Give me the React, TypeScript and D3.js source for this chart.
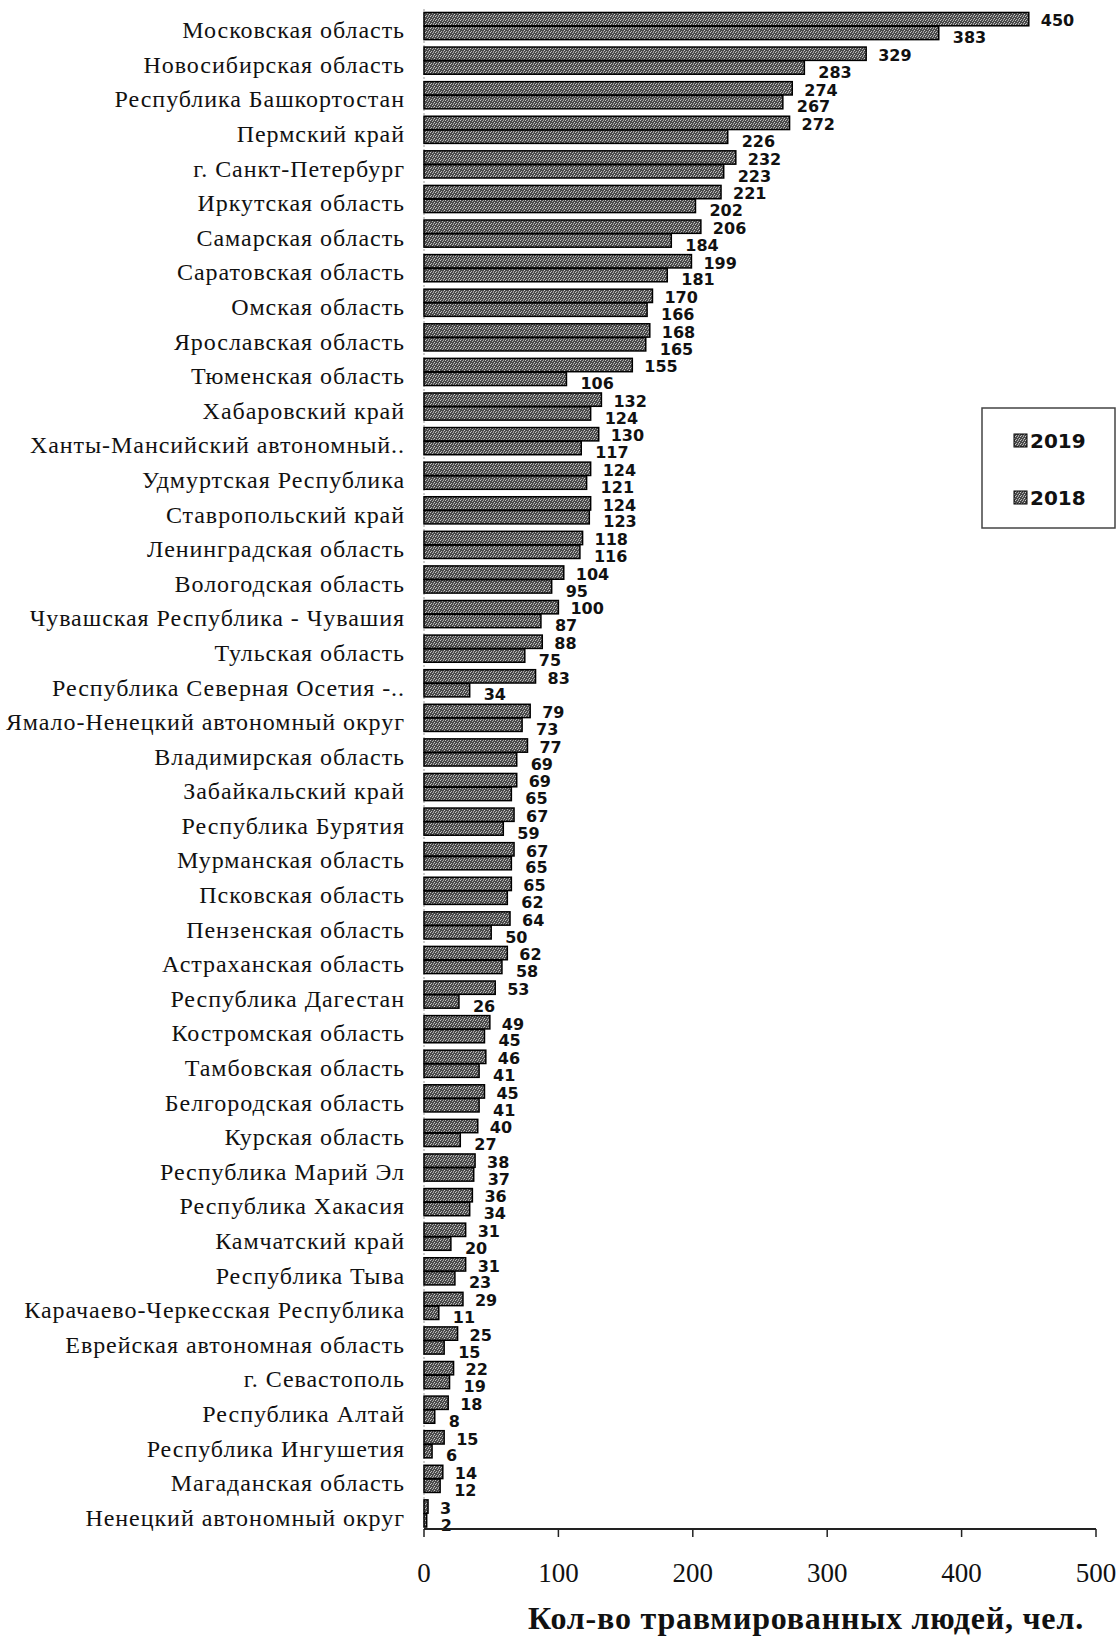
import React from "react";
import * as d3 from "d3";

const regions: string[] = [
  "Московская область",
  "Новосибирская область",
  "Республика Башкортостан",
  "Пермский край",
  "г. Санкт-Петербург",
  "Иркутская область",
  "Самарская область",
  "Саратовская область",
  "Омская область",
  "Ярославская область",
  "Тюменская область",
  "Хабаровский край",
  "Ханты-Мансийский автономный..",
  "Удмуртская Республика",
  "Ставропольский край",
  "Ленинградская область",
  "Вологодская область",
  "Чувашская  Республика - Чувашия",
  "Тульская область",
  "Республика Северная Осетия -..",
  "Ямало-Ненецкий автономный округ",
  "Владимирская область",
  "Забайкальский край",
  "Республика Бурятия",
  "Мурманская область",
  "Псковская область",
  "Пензенская область",
  "Астраханская область",
  "Республика Дагестан",
  "Костромская область",
  "Тамбовская область",
  "Белгородская область",
  "Курская область",
  "Республика Марий Эл",
  "Республика Хакасия",
  "Камчатский край",
  "Республика Тыва",
  "Карачаево-Черкесская Республика",
  "Еврейская автономная область",
  "г. Севастополь",
  "Республика Алтай",
  "Республика Ингушетия",
  "Магаданская область",
  "Ненецкий автономный округ",
];

const values2019: number[] = [
  450, 329, 274, 272, 232, 221, 206, 199, 170, 168, 155, 132, 130, 124, 124, 118,
  104, 100, 88, 83, 79, 77, 69, 67, 67, 65, 64, 62, 53, 49, 46, 45, 40, 38, 36,
  31, 31, 29, 25, 22, 18, 15, 14, 3,
];

const values2018: number[] = [
  383, 283, 267, 226, 223, 202, 184, 181, 166, 165, 106, 124, 117, 121, 123, 116,
  95, 87, 75, 34, 73, 69, 65, 59, 65, 62, 50, 58, 26, 45, 41, 41, 27, 37, 34,
  20, 23, 11, 15, 19, 8, 6, 12, 2,
];

const seriesNames: string[] = ["2019", "2018"];
const xTicks: number[] = [0, 100, 200, 300, 400, 500];
const axisTitle = "Кол-во травмированных людей, чел.";

export default function App() {
  const W = 1118;
  const H = 1638;
  const x = d3.scaleLinear().domain([0, 500]).range([424, 1096]);
  const y = d3
    .scaleBand<string>()
    .domain(regions)
    .range([9, 1531])
    .paddingInner(0.2)
    .paddingOuter(0.1);
  const sub = d3
    .scaleBand<string>()
    .domain(seriesNames)
    .range([0, y.bandwidth()]);
  const axisY = 1529;
  const serif = "'Liberation Serif', 'Times New Roman', serif";
  const sans = "'DejaVu Sans', Verdana, sans-serif";
  const series = [values2019, values2018];

  return (
    <svg
      width={W}
      height={H}
      style={{ position: "absolute", left: 0, top: 0, display: "block", background: "#fff" }}
    >
      <defs>
        <pattern id="ht" width="5" height="4" patternUnits="userSpaceOnUse">
          <rect width="5" height="4" fill="#4a4a4a" />
          <rect x="0" y="0" width="1" height="1" fill="#c8c8c8" />
          <rect x="2" y="1" width="1" height="1" fill="#b0b0b0" />
          <rect x="4" y="2" width="1" height="1" fill="#d0d0d0" />
          <rect x="1" y="3" width="1" height="1" fill="#b8b8b8" />
          <rect x="3" y="3" width="1" height="1" fill="#999" />
          <rect x="3" y="0" width="1" height="1" fill="#a0a0a0" />
        </pattern>
      </defs>

      {/* vertical axis */}
      <line x1={x(0)} x2={x(0)} y1={9} y2={axisY} stroke="#9a9a9a" strokeWidth={1} strokeDasharray="2,2" />

      {/* category labels */}
      {regions.map((r) => (
        <text
          key={r}
          x={405}
          y={(y(r) as number) + y.bandwidth() / 2 + 12}
          textAnchor="end"
          fontFamily={serif}
          fontSize={24}
          letterSpacing={0.95}
          fill="#111"
        >
          {r}
        </text>
      ))}

      {/* bars */}
      {regions.map((r, i) =>
        seriesNames.map((s, k) => {
          const v = series[k][i];
          const by = (y(r) as number) + (sub(s) as number);
          return (
            <rect
              key={r + s}
              x={x(0)}
              y={by}
              width={Math.max(x(v) - x(0), 1)}
              height={sub.bandwidth() - 0.5}
              fill="url(#ht)"
              stroke="#000"
              strokeWidth={1.5}
            />
          );
        })
      )}

      {/* value labels */}
      {regions.map((r, i) =>
        seriesNames.map((s, k) => {
          const v = series[k][i];
          const by = (y(r) as number) + (sub(s) as number) + sub.bandwidth() / 2;
          return (
            <text
              key={"l" + r + s}
              x={x(v) + (k === 0 ? 12 : 14)}
              y={by + (k === 0 ? 7 : 10)}
              fontFamily={sans}
              fontWeight="bold"
              fontSize={16}
              fill="#111"
            >
              {v}
            </text>
          );
        })
      )}

      {/* x axis */}
      <line x1={x(0)} x2={x(500)} y1={axisY} y2={axisY} stroke="#222" strokeWidth={2} />
      {xTicks.map((t) => (
        <g key={t}>
          <line x1={x(t)} x2={x(t)} y1={axisY} y2={axisY + 8} stroke="#222" strokeWidth={1.5} />
          <text x={x(t)} y={1582} textAnchor="middle" fontFamily={serif} fontSize={27} fill="#111">
            {t}
          </text>
        </g>
      ))}
      <text
        x={806}
        y={1629}
        textAnchor="middle"
        fontFamily={serif}
        fontWeight="bold"
        fontSize={32}
        letterSpacing={0.8}
        fill="#111"
      >
        {axisTitle}
      </text>

      {/* legend */}
      <rect x={982} y={408} width={133} height={120} fill="#fff" stroke="#444" strokeWidth={1.5} />
      {seriesNames.map((s, k) => (
        <g key={"lg" + s}>
          <rect x={1014} y={k === 0 ? 434 : 491} width={13} height={13} fill="url(#ht)" stroke="#000" strokeWidth={1} />
          <text x={1030} y={k === 0 ? 448 : 505} fontFamily={sans} fontWeight="bold" fontSize={20} fill="#111">
            {s}
          </text>
        </g>
      ))}
    </svg>
  );
}
